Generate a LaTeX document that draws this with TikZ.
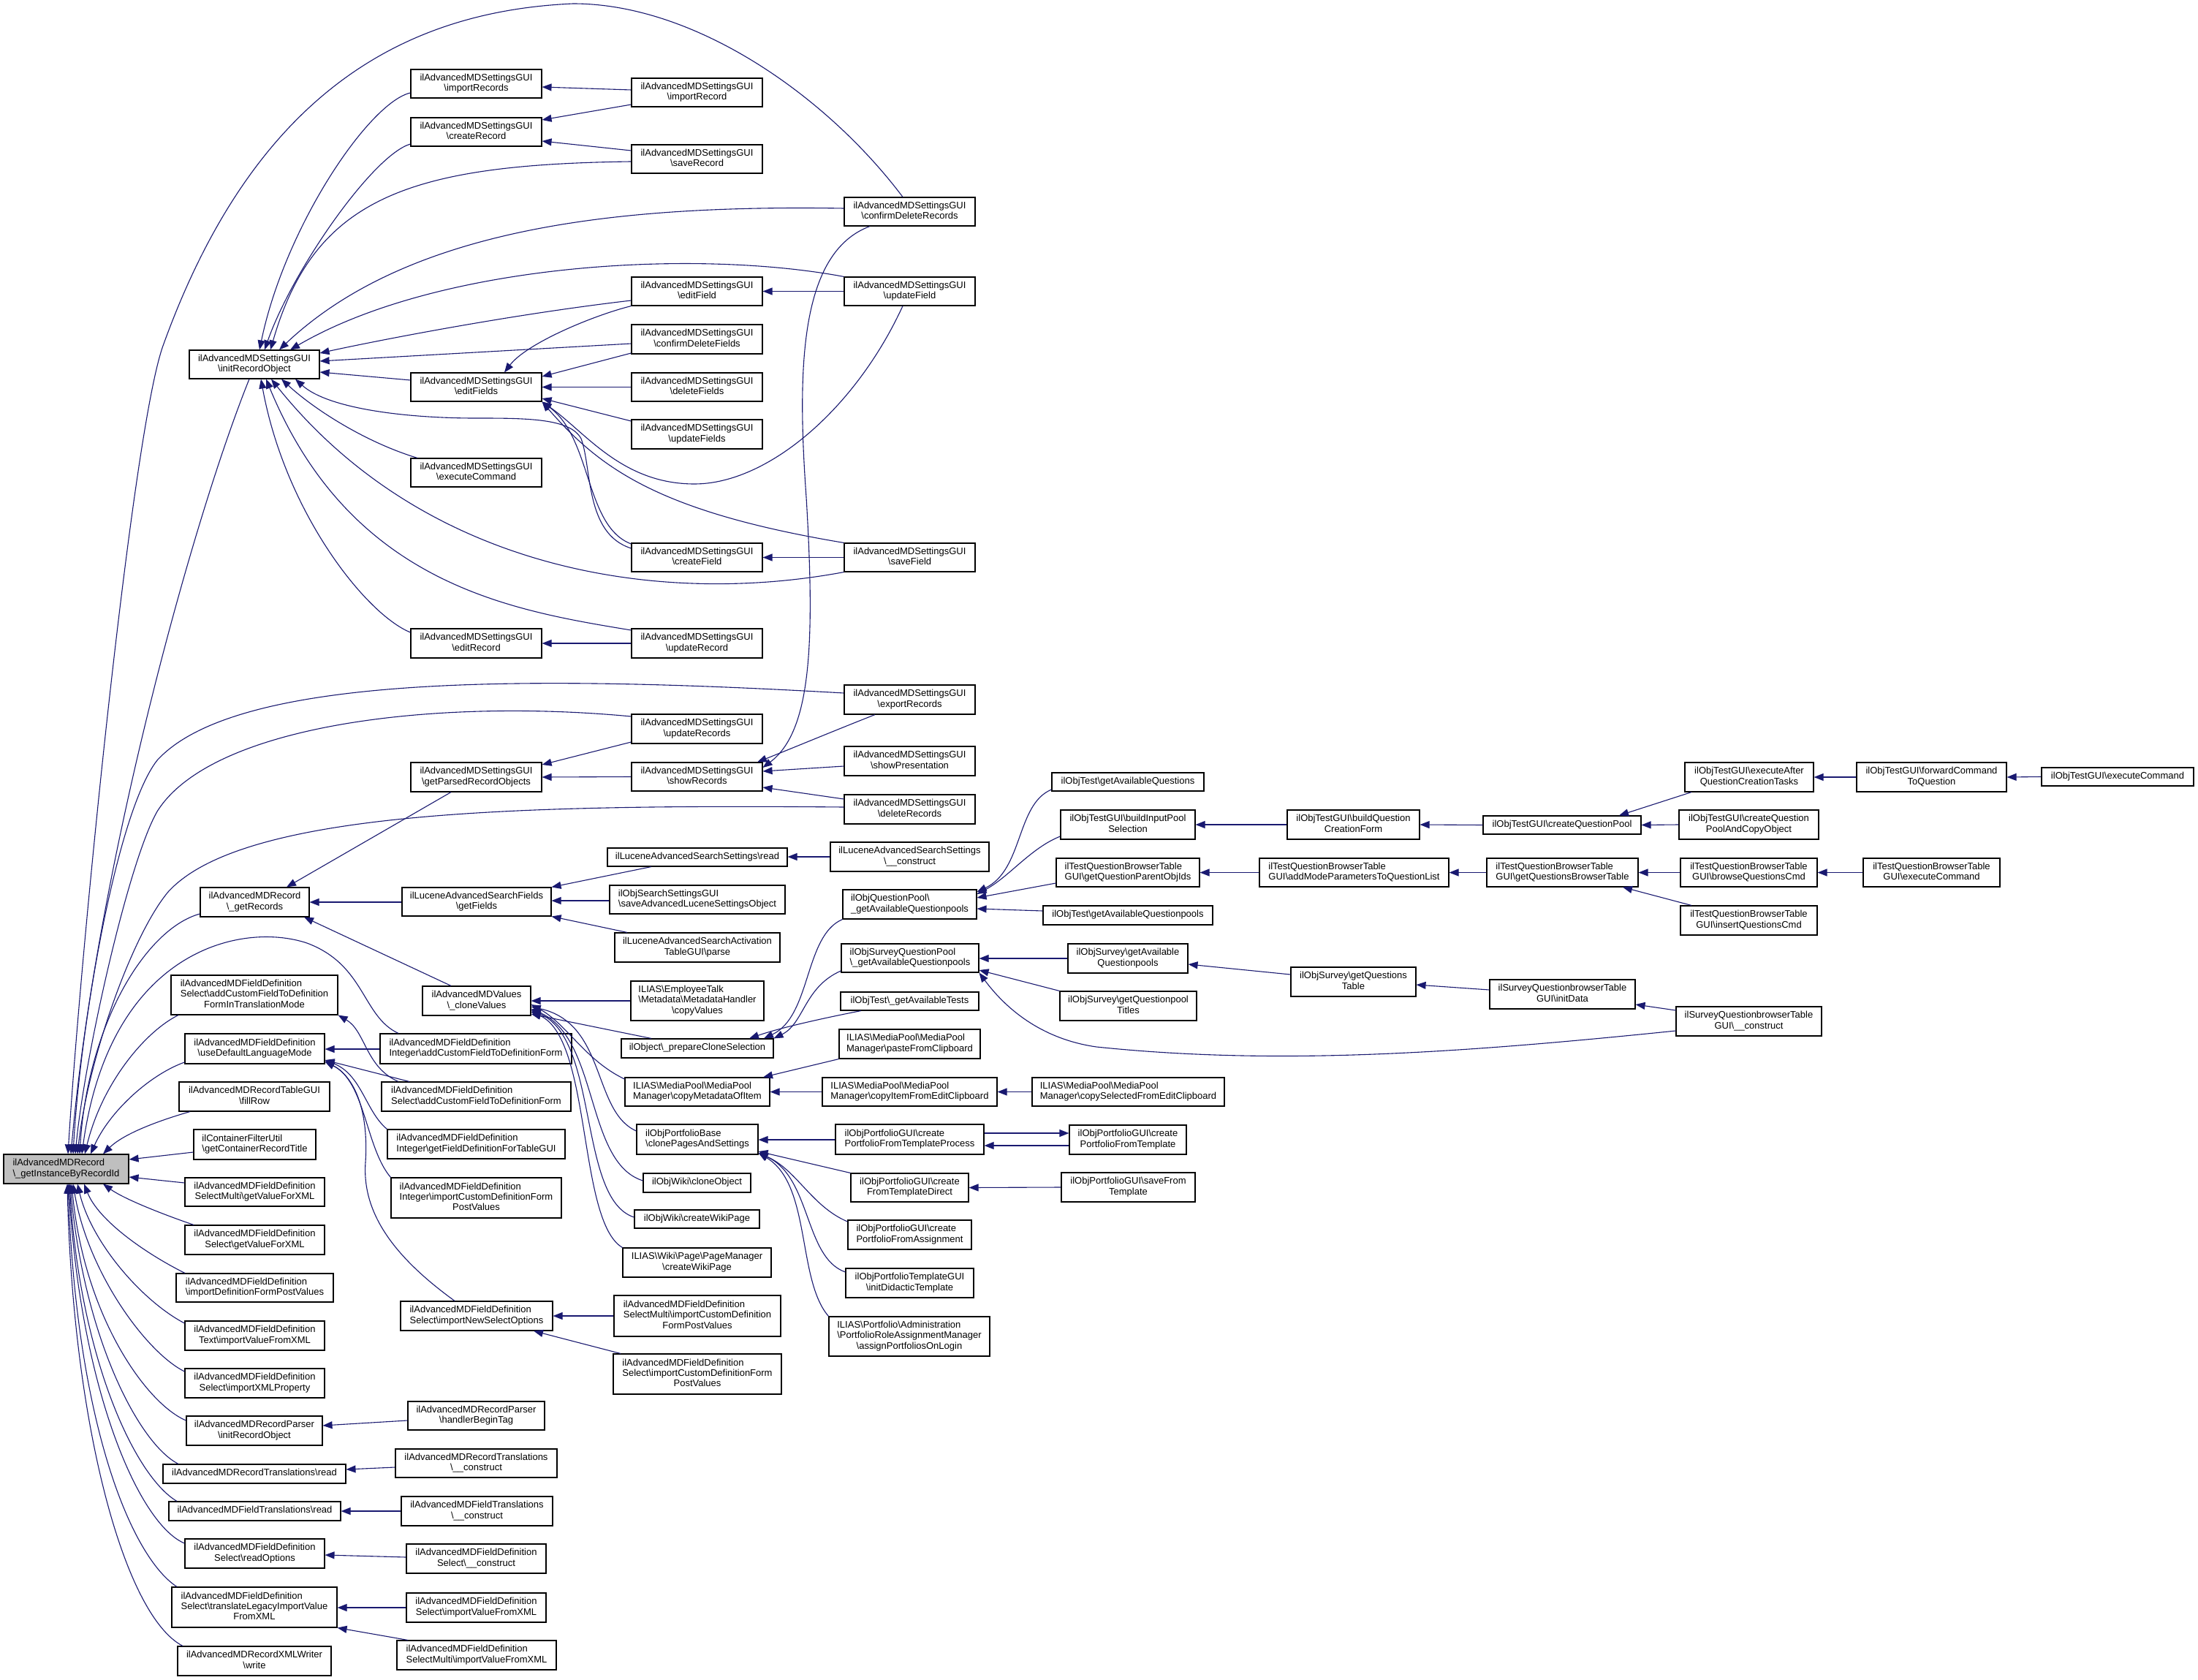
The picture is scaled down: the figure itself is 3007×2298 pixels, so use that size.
\documentclass[tikz,border=0pt]{standalone}
\usepackage{fontspec}
\newfontfamily\dfont{Liberation Sans}
\usetikzlibrary{arrows.meta}
\definecolor{edgec}{RGB}{25,25,112}
\definecolor{mainfill}{RGB}{191,191,191}
\newcommand\BS{\textbackslash}
\newcommand\LA[1]{\begin{tabular}{@{}c@{}}#1\end{tabular}}
\newcommand\LB[2]{\begin{tabular}{@{}l@{}}#1\\\multicolumn{1}{@{}c@{}}{#2}\end{tabular}}
\newcommand\LC[3]{\begin{tabular}{@{}l@{}}#1\\#2\\\multicolumn{1}{@{}c@{}}{#3}\end{tabular}}
\newcommand\nbx[7][]{\node[box,#1,minimum width={#5-#3},minimum height={#6-#4}] (#2) at ({(#3+#5)/2},{(#4+#6)/2}) {#7};}
\begin{document}
\begin{tikzpicture}[x=1pt,y=-1pt,
 box/.style={draw=black,line width=1.1pt,inner sep=0pt,anchor=center,font=\dfont\fontsize{13}{14.3}\selectfont},
 e/.style={draw=edgec,line width=1.1pt,-{Triangle[length=13pt,width=10pt,fill=edgec]}}]
\fill[white] (0,0) rectangle (3007,2298);
\useasboundingbox (0,0) rectangle (3007,2298);
% ---------- nodes
\nbx[fill=mainfill]{main}{5}{1579}{176}{1619}{\LB{ilAdvancedMDRecord}{\BS\_getInstanceByRecordId}}
% column B
\nbx{iro}{259}{479}{437}{518}{\LB{ilAdvancedMDSettingsGUI}{\BS initRecordObject}}
\nbx{gr}{274}{1214}{423}{1254}{\LB{ilAdvancedMDRecord}{\BS\_getRecords}}
\nbx{tm}{234}{1334}{462}{1388}{\LC{ilAdvancedMDFieldDefinition}{Select\BS addCustomFieldToDefinition}{FormInTranslationMode}}
\nbx{udl}{253}{1414}{444}{1455}{\LB{ilAdvancedMDFieldDefinition}{\BS useDefaultLanguageMode}}
\nbx{fr}{245}{1480}{451}{1520}{\LB{ilAdvancedMDRecordTableGUI}{\BS fillRow}}
\nbx{gct}{265}{1545}{432}{1586}{\LB{ilContainerFilterUtil}{\BS getContainerRecordTitle}}
\nbx{smgv}{253}{1611}{444}{1650}{\LB{ilAdvancedMDFieldDefinition}{SelectMulti\BS getValueForXML}}
\nbx{sgv}{253}{1676}{444}{1716}{\LB{ilAdvancedMDFieldDefinition}{Select\BS getValueForXML}}
\nbx{idf}{241}{1742}{456}{1781}{\LB{ilAdvancedMDFieldDefinition}{\BS importDefinitionFormPostValues}}
\nbx{tiv}{253}{1807}{444}{1847}{\LB{ilAdvancedMDFieldDefinition}{Text\BS importValueFromXML}}
\nbx{sixp}{253}{1872}{444}{1912}{\LB{ilAdvancedMDFieldDefinition}{Select\BS importXMLProperty}}
\nbx{rpiro}{255}{1937}{441}{1977}{\LB{ilAdvancedMDRecordParser}{\BS initRecordObject}}
\nbx{rtr}{223}{2003}{473}{2029}{\LA{ilAdvancedMDRecordTranslations\BS read}}
\nbx{ftr}{231}{2054}{466}{2080}{\LA{ilAdvancedMDFieldTranslations\BS read}}
\nbx{sro}{253}{2105}{444}{2145}{\LB{ilAdvancedMDFieldDefinition}{Select\BS readOptions}}
\nbx{tl}{235}{2171}{461}{2226}{\LC{ilAdvancedMDFieldDefinition}{Select\BS translateLegacyImportValue}{FromXML}}
\nbx{xw}{243}{2252}{453}{2292}{\LB{ilAdvancedMDRecordXMLWriter}{\BS write}}
% column C
\nbx{imr}{562}{95}{741}{134}{\LB{ilAdvancedMDSettingsGUI}{\BS importRecords}}
\nbx{cr}{562}{161}{741}{200}{\LB{ilAdvancedMDSettingsGUI}{\BS createRecord}}
\nbx{ef}{562}{510}{741}{549}{\LB{ilAdvancedMDSettingsGUI}{\BS editFields}}
\nbx{ec}{562}{627}{741}{666}{\LB{ilAdvancedMDSettingsGUI}{\BS executeCommand}}
\nbx{er}{562}{860}{741}{900}{\LB{ilAdvancedMDSettingsGUI}{\BS editRecord}}
\nbx{gpro}{562}{1043}{741}{1083}{\LB{ilAdvancedMDSettingsGUI}{\BS getParsedRecordObjects}}
\nbx{lgf}{550}{1214}{754}{1253}{\LB{ilLuceneAdvancedSearchFields}{\BS getFields}}
\nbx{cv}{578}{1349}{726}{1389}{\LB{ilAdvancedMDValues}{\BS\_cloneValues}}
\nbx{iacf}{520}{1414}{782}{1455}{\LB{ilAdvancedMDFieldDefinition}{Integer\BS addCustomFieldToDefinitionForm}}
\nbx{sacf}{522}{1480}{781}{1520}{\LB{ilAdvancedMDFieldDefinition}{Select\BS addCustomFieldToDefinitionForm}}
\nbx{igfd}{530}{1545}{773}{1585}{\LB{ilAdvancedMDFieldDefinition}{Integer\BS getFieldDefinitionForTableGUI}}
\nbx{icdf}{535}{1611}{768}{1666}{\LC{ilAdvancedMDFieldDefinition}{Integer\BS importCustomDefinitionForm}{PostValues}}
\nbx{inso}{548}{1780}{756}{1820}{\LB{ilAdvancedMDFieldDefinition}{Select\BS importNewSelectOptions}}
\nbx{hbt}{558}{1917}{745}{1956}{\LB{ilAdvancedMDRecordParser}{\BS handlerBeginTag}}
\nbx{rtc}{541}{1982}{762}{2021}{\LB{ilAdvancedMDRecordTranslations}{\BS\_\_construct}}
\nbx{ftc}{549}{2047}{756}{2087}{\LB{ilAdvancedMDFieldTranslations}{\BS\_\_construct}}
\nbx{sc}{556}{2112}{747}{2152}{\LB{ilAdvancedMDFieldDefinition}{Select\BS\_\_construct}}
\nbx{siv}{556}{2179}{747}{2219}{\LB{ilAdvancedMDFieldDefinition}{Select\BS importValueFromXML}}
\nbx{smiv}{543}{2244}{761}{2284}{\LB{ilAdvancedMDFieldDefinition}{SelectMulti\BS importValueFromXML}}
% column D
\nbx{imrec}{864}{107}{1043}{146}{\LB{ilAdvancedMDSettingsGUI}{\BS importRecord}}
\nbx{sr}{864}{198}{1043}{237}{\LB{ilAdvancedMDSettingsGUI}{\BS saveRecord}}
\nbx{efd}{864}{379}{1043}{418}{\LB{ilAdvancedMDSettingsGUI}{\BS editField}}
\nbx{cdf}{864}{444}{1043}{484}{\LB{ilAdvancedMDSettingsGUI}{\BS confirmDeleteFields}}
\nbx{df}{864}{510}{1043}{549}{\LB{ilAdvancedMDSettingsGUI}{\BS deleteFields}}
\nbx{ufs}{864}{574}{1043}{614}{\LB{ilAdvancedMDSettingsGUI}{\BS updateFields}}
\nbx{cf}{864}{743}{1043}{782}{\LB{ilAdvancedMDSettingsGUI}{\BS createField}}
\nbx{ur}{864}{860}{1043}{900}{\LB{ilAdvancedMDSettingsGUI}{\BS updateRecord}}
\nbx{urs}{864}{977}{1043}{1017}{\LB{ilAdvancedMDSettingsGUI}{\BS updateRecords}}
\nbx{shr}{864}{1043}{1043}{1082}{\LB{ilAdvancedMDSettingsGUI}{\BS showRecords}}
\nbx{lsr}{831}{1160}{1077}{1185}{\LA{ilLuceneAdvancedSearchSettings\BS read}}
\nbx{ossg}{834}{1211}{1074}{1250}{\LB{ilObjSearchSettingsGUI}{\BS saveAdvancedLuceneSettingsObject}}
\nbx{lat}{841}{1276}{1067}{1316}{\LB{ilLuceneAdvancedSearchActivation}{TableGUI\BS parse}}
\nbx{etc}{863}{1342}{1045}{1396}{\LC{ILIAS\BS EmployeeTalk}{\BS Metadata\BS MetadataHandler}{\BS copyValues}}
\nbx{pcs}{850}{1421}{1058}{1447}{\LA{ilObject\BS\_prepareCloneSelection}}
\nbx{cmo}{855}{1474}{1053}{1513}{\LB{ILIAS\BS MediaPool\BS MediaPool}{Manager\BS copyMetadataOfItem}}
\nbx{cps}{871}{1538}{1037}{1579}{\LB{ilObjPortfolioBase}{\BS clonePagesAndSettings}}
\nbx{wco}{880}{1605}{1027}{1631}{\LA{ilObjWiki\BS cloneObject}}
\nbx{wcp}{868}{1655}{1039}{1680}{\LA{ilObjWiki\BS createWikiPage}}
\nbx{pmw}{852}{1707}{1055}{1747}{\LB{ILIAS\BS Wiki\BS Page\BS PageManager}{\BS createWikiPage}}
\nbx{smicd}{840}{1772}{1068}{1828}{\LC{ilAdvancedMDFieldDefinition}{SelectMulti\BS importCustomDefinition}{FormPostValues}}
\nbx{sicd}{839}{1852}{1069}{1907}{\LC{ilAdvancedMDFieldDefinition}{Select\BS importCustomDefinitionForm}{PostValues}}
% column E
\nbx{cdr}{1155}{270}{1334}{309}{\LB{ilAdvancedMDSettingsGUI}{\BS confirmDeleteRecords}}
\nbx{uf}{1155}{379}{1334}{418}{\LB{ilAdvancedMDSettingsGUI}{\BS updateField}}
\nbx{sf}{1155}{743}{1334}{782}{\LB{ilAdvancedMDSettingsGUI}{\BS saveField}}
\nbx{exr}{1155}{937}{1334}{977}{\LB{ilAdvancedMDSettingsGUI}{\BS exportRecords}}
\nbx{sp}{1155}{1021}{1334}{1061}{\LB{ilAdvancedMDSettingsGUI}{\BS showPresentation}}
\nbx{dr}{1155}{1087}{1334}{1127}{\LB{ilAdvancedMDSettingsGUI}{\BS deleteRecords}}
\nbx{lsc}{1136}{1152}{1353}{1192}{\LB{ilLuceneAdvancedSearchSettings}{\BS\_\_construct}}
\nbx{qpa}{1153}{1217}{1336}{1257}{\LB{ilObjQuestionPool\BS}{\_getAvailableQuestionpools}}
\nbx{sqpa}{1151}{1291}{1339}{1330}{\LB{ilObjSurveyQuestionPool}{\BS\_getAvailableQuestionpools}}
\nbx{gat}{1150}{1357}{1339}{1382}{\LA{ilObjTest\BS\_getAvailableTests}}
\nbx{pfc}{1148}{1408}{1341}{1448}{\LB{ILIAS\BS MediaPool\BS MediaPool}{Manager\BS pasteFromClipboard}}
\nbx{cie}{1125}{1474}{1364}{1513}{\LB{ILIAS\BS MediaPool\BS MediaPool}{Manager\BS copyItemFromEditClipboard}}
\nbx{cpftp}{1143}{1538}{1346}{1579}{\LB{ilObjPortfolioGUI\BS create}{PortfolioFromTemplateProcess}}
\nbx{cftd}{1164}{1605}{1325}{1644}{\LB{ilObjPortfolioGUI\BS create}{FromTemplateDirect}}
\nbx{cpfa}{1160}{1669}{1329}{1709}{\LB{ilObjPortfolioGUI\BS create}{PortfolioFromAssignment}}
\nbx{idt}{1157}{1735}{1332}{1775}{\LB{ilObjPortfolioTemplateGUI}{\BS initDidacticTemplate}}
\nbx{apl}{1134}{1801}{1354}{1855}{\LC{ILIAS\BS Portfolio\BS Administration}{\BS PortfolioRoleAssignmentManager}{\BS assignPortfoliosOnLogin}}
% column F
\nbx{tgaq}{1439}{1057}{1647}{1082}{\LA{ilObjTest\BS getAvailableQuestions}}
\nbx{bips}{1451}{1108}{1635}{1148}{\LB{ilObjTestGUI\BS buildInputPool}{Selection}}
\nbx{gqpo}{1445}{1174}{1641}{1213}{\LB{ilTestQuestionBrowserTable}{GUI\BS getQuestionParentObjIds}}
\nbx{tgaqp}{1427}{1239}{1659}{1265}{\LA{ilObjTest\BS getAvailableQuestionpools}}
\nbx{sgaq}{1461}{1291}{1625}{1331}{\LB{ilObjSurvey\BS getAvailable}{Questionpools}}
\nbx{sgqt}{1450}{1356}{1637}{1396}{\LB{ilObjSurvey\BS getQuestionpool}{Titles}}
\nbx{csec}{1412}{1474}{1675}{1513}{\LB{ILIAS\BS MediaPool\BS MediaPool}{Manager\BS copySelectedFromEditClipboard}}
\nbx{cpft}{1463}{1539}{1623}{1579}{\LB{ilObjPortfolioGUI\BS create}{PortfolioFromTemplate}}
\nbx{sft}{1452}{1604}{1635}{1644}{\LB{ilObjPortfolioGUI\BS saveFrom}{Template}}
% column G
\nbx{bqcf}{1761}{1108}{1942}{1148}{\LB{ilObjTestGUI\BS buildQuestion}{CreationForm}}
\nbx{amp}{1723}{1174}{1982}{1213}{\LB{ilTestQuestionBrowserTable}{GUI\BS addModeParametersToQuestionList}}
\nbx{sgqtab}{1766}{1323}{1937}{1363}{\LB{ilObjSurvey\BS getQuestions}{Table}}
% column H
\nbx{cqp}{2029}{1116}{2245}{1141}{\LA{ilObjTestGUI\BS createQuestionPool}}
\nbx{gqbt}{2034}{1174}{2241}{1213}{\LB{ilTestQuestionBrowserTable}{GUI\BS getQuestionsBrowserTable}}
\nbx{sid}{2038}{1340}{2237}{1380}{\LB{ilSurveyQuestionbrowserTable}{GUI\BS initData}}
% column I
\nbx{eaqct}{2305}{1043}{2481}{1083}{\LB{ilObjTestGUI\BS executeAfter}{QuestionCreationTasks}}
\nbx{cqpc}{2297}{1108}{2488}{1148}{\LB{ilObjTestGUI\BS createQuestion}{PoolAndCopyObject}}
\nbx{bqc}{2299}{1174}{2486}{1213}{\LB{ilTestQuestionBrowserTable}{GUI\BS browseQuestionsCmd}}
\nbx{iqc}{2299}{1239}{2486}{1279}{\LB{ilTestQuestionBrowserTable}{GUI\BS insertQuestionsCmd}}
\nbx{sqc}{2293}{1377}{2492}{1417}{\LB{ilSurveyQuestionbrowserTable}{GUI\BS\_\_construct}}
% column J, K
\nbx{fcq}{2540}{1043}{2745}{1083}{\LB{ilObjTestGUI\BS forwardCommand}{ToQuestion}}
\nbx{qbec}{2549}{1174}{2736}{1213}{\LB{ilTestQuestionBrowserTable}{GUI\BS executeCommand}}
\nbx{tec}{2793}{1050}{3001}{1075}{\LA{ilObjTestGUI\BS executeCommand}}
% ---------- edges into initRecordObject
\draw[e] (imr.west |- 0,127) .. controls (505,140) and (390,310) .. (iro.north -| 355,0);
\draw[e] (cr.west |- 0,197) .. controls (510,212) and (400,370) .. (iro.north -| 362,0);
\draw[e] (sr.west |- 0,221) .. controls (560,225) and (430,270) .. (iro.north -| 370,0);
\draw[e] (cdr.west |- 0,285) .. controls (850,280) and (560,310) .. (iro.north -| 382,0);
\draw[e] (uf.north west) .. controls (950,340) and (600,360) .. (iro.north -| 397,0);
\draw[e] (efd.west |- 0,411) .. controls (700,430) and (520,465) .. (iro.east |- 0,483);
\draw[e] (cdf.west |- 0,470) -- (iro.east |- 0,494);
\draw[e] (ef.west |- 0,520) -- (iro.east |- 0,509);
\draw[e] (cf.west |- 0,750) .. controls (800,730) and (810,640) .. (795,600) .. controls (780,572) and (720,572) .. (650,572) .. controls (560,572) and (450,560) .. (iro.south -| 404,0);
\draw[e] (ec.north -| 571,0) .. controls (500,605) and (430,560) .. (iro.south -| 385,0);
\draw[e] (sf.south west) .. controls (900,830) and (580,780) .. (iro.south -| 371,0);
\draw[e] (ur.west |- 0,862) .. controls (700,835) and (480,800) .. (iro.south -| 364,0);
\draw[e] (er.west |- 0,865) .. controls (500,840) and (390,700) .. (iro.south -| 357,0);
% ---------- edges into the main node
\draw[e] (iro.south -| 341,0) .. controls (260,720) and (130,1200) .. (main.north -| 97,0);
\draw[e] (cdr.north -| 1235,0) .. controls (1130,130) and (950,5) .. (784,5) .. controls (560,15) and (350,120) .. (223,473) .. controls (181,590) and (110,1300) .. (main.north -| 93,0);
\draw[e] (exr.west |- 0,948) .. controls (700,922) and (320,925) .. (215,1040) .. controls (160,1110) and (110,1400) .. (main.north -| 100,0);
\draw[e] (urs.west |- 0,980) .. controls (600,955) and (290,990) .. (215,1110) .. controls (175,1180) and (115,1450) .. (main.north -| 103,0);
\draw[e] (dr.west |- 0,1104) .. controls (700,1100) and (330,1110) .. (230,1220) .. controls (180,1280) and (120,1450) .. (main.north -| 106,0);
\draw[e] (gr.west |- 0,1250) .. controls (200,1270) and (120,1400) .. (main.north -| 109,0);
\draw[e] (iacf.north -| 545,0) .. controls (495,1390) and (500,1320) .. (420,1290) .. controls (330,1260) and (150,1300) .. (main.north -| 112,0);
\draw[e] (tm.south -| 244,0) .. controls (200,1410) and (140,1480) .. (main.north -| 116,0);
\draw[e] (udl.west |- 0,1453) .. controls (205,1470) and (150,1520) .. (main.north -| 124,0);
\draw[e] (fr.south -| 260,0) .. controls (220,1532) and (170,1550) .. (main.north -| 141,0);
\draw[e] (gct.west |- 0,1576) -- (main.east |- 0,1586);
\draw[e] (smgv.west |- 0,1618) -- (main.east |- 0,1610);
\draw[e] (sgv.north -| 265,0) .. controls (220,1660) and (170,1640) .. (main.south -| 141,0);
\draw[e] (idf.north -| 253,0) .. controls (200,1715) and (135,1670) .. (main.south -| 115,0);
\draw[e] (tiv.west |- 0,1810) .. controls (195,1780) and (125,1700) .. (main.south -| 106,0);
\draw[e] (sixp.west |- 0,1876) .. controls (200,1850) and (120,1740) .. (main.south -| 100,0);
\draw[e] (rpiro.west |- 0,1943) .. controls (200,1920) and (115,1800) .. (main.south -| 98,0);
\draw[e] (rtr.north -| 244,0) .. controls (190,1975) and (115,1830) .. (main.south -| 96,0);
\draw[e] (ftr.north -| 242,0) .. controls (185,2020) and (110,1860) .. (main.south -| 95,0);
\draw[e] (sro.west |- 0,2111) .. controls (190,2085) and (110,1900) .. (main.south -| 94,0);
\draw[e] (tl.north -| 242,0) .. controls (180,2130) and (105,1950) .. (main.south -| 93,0);
\draw[e] (xw.north -| 250,0) .. controls (170,2210) and (100,1950) .. (main.south -| 92,0);
% ---------- edges into editFields
\draw[e] (efd.south west) .. controls (810,432) and (720,470) .. (ef.north -| 690,0);
\draw[e] (cdf.west |- 0,483) -- (ef.east |- 0,515);
\draw[e] (df.west) -- (ef.east);
\draw[e] (ufs.west |- 0,576) -- (ef.east |- 0,545);
\draw[e] (uf.south -| 1235,0) .. controls (1170,560) and (1050,662) .. (950,662) .. controls (850,662) and (800,590) .. (ef.south east);
\draw[e] (cf.west |- 0,744) .. controls (800,720) and (810,600) .. (ef.south east);
\draw[e] (sf.north west) .. controls (900,700) and (820,640) .. (ef.south east);
% ---------- other settings GUI edges
\draw[e] (uf.west) -- (efd.east);
\draw[e] (sf.west) -- (cf.east);
\draw[e] (imrec.west |- 0,123) -- (imr.east |- 0,119);
\draw[e] (imrec.west |- 0,143) -- (cr.east |- 0,164);
\draw[e] (sr.west |- 0,206) -- (cr.east |- 0,193);
\draw[e] (ur.west) -- (er.east);
\draw[e] (cdr.south -| 1190,0) .. controls (1095,345) and (1090,500) .. (1103,680) .. controls (1115,880) and (1110,1000) .. (shr.east |- 0,1050);
\draw[e] (urs.west |- 0,1015) -- (gpro.east |- 0,1046);
\draw[e] (shr.west) -- (gpro.east |- 0,1063);
\draw[e] (exr.south -| 1197,0) .. controls (1140,1000) and (1080,1025) .. (shr.north -| 1036,0);
\draw[e] (sp.west |- 0,1048) -- (shr.east |- 0,1055);
\draw[e] (dr.west |- 0,1093) -- (shr.east |- 0,1077);
% ---------- getRecords
\draw[e] (gpro.south -| 617,0) -- (gr.north -| 392,0);
\draw[e] (lgf.west |- 0,1234) -- (gr.east |- 0,1234);
\draw[e] (cv.north -| 617,0) -- (gr.south -| 416,0);
\draw[e] (lsr.south -| 891,0) -- (lgf.north east);
\draw[e] (ossg.west |- 0,1232) -- (lgf.east |- 0,1232);
\draw[e] (lat.north -| 858,0) -- (lgf.south east);
\draw[e] (lsc.west |- 0,1172) -- (lsr.east |- 0,1172);
% ---------- cloneValues
\draw[e] (etc.west |- 0,1369) -- (cv.east |- 0,1369);
\draw[e] (pcs.north -| 891,0) -- (cv.east |- 0,1387);
\draw[e] (cmo.west |- 0,1476) .. controls (800,1450) and (775,1400) .. (cv.east |- 0,1374);
\draw[e] (cps.west |- 0,1547) .. controls (810,1520) and (830,1400) .. (cv.east |- 0,1377);
\draw[e] (wco.west |- 0,1615) .. controls (800,1590) and (820,1420) .. (cv.east |- 0,1380);
\draw[e] (wcp.west |- 0,1665) .. controls (790,1640) and (820,1420) .. (cv.east |- 0,1382);
\draw[e] (pmw.north west) .. controls (790,1670) and (810,1420) .. (cv.east |- 0,1384);
% ---------- prepareCloneSelection
\draw[e] (qpa.south west) .. controls (1100,1280) and (1110,1390) .. (pcs.north -| 1045,0);
\draw[e] (sqpa.west |- 0,1328) .. controls (1100,1350) and (1100,1400) .. (pcs.north east);
\draw[e] (gat.south -| 1178,0) .. controls (1130,1392) and (1070,1405) .. (pcs.north -| 1025,0);
% ---------- media pool
\draw[e] (pfc.south west) -- (cmo.north -| 1044,0);
\draw[e] (cie.west) -- (cmo.east);
\draw[e] (csec.west) -- (cie.east);
% ---------- portfolio
\draw[e] (cpftp.west |- 0,1559) -- (cps.east |- 0,1559);
\draw[e] (cftd.north west) -- (cps.east |- 0,1575);
\draw[e] (cpfa.west |- 0,1671) .. controls (1110,1650) and (1090,1600) .. (cps.east |- 0,1577);
\draw[e] (idt.west |- 0,1740) .. controls (1100,1720) and (1110,1610) .. (cps.east |- 0,1577);
\draw[e] (apl.north west) .. controls (1090,1750) and (1110,1620) .. (cps.east |- 0,1577);
\draw[e] (cpftp.east |- 0,1550) -- (cpft.west |- 0,1550);
\draw[e] (cpft.west |- 0,1567) -- (cpftp.east |- 0,1567);
\draw[e] (sft.west) -- (cftd.east);
% ---------- question pools
\draw[e] (tgaq.west |- 0,1080) .. controls (1390,1100) and (1400,1190) .. (qpa.east |- 0,1220);
\draw[e] (bips.west |- 0,1144) .. controls (1410,1160) and (1380,1200) .. (qpa.east |- 0,1223);
\draw[e] (gqpo.west |- 0,1208) -- (qpa.east |- 0,1228);
\draw[e] (tgaqp.west |- 0,1246) -- (qpa.east |- 0,1243);
\draw[e] (sgaq.west |- 0,1311) -- (sqpa.east |- 0,1311);
\draw[e] (sgqt.north west) -- (sqpa.east |- 0,1327);
\draw[e] (sqc.west |- 0,1410) .. controls (2000,1440) and (1750,1458) .. (1500,1432) .. controls (1430,1422) and (1380,1385) .. (sqpa.south east);
% ---------- test GUI chains
\draw[e] (bqcf.west) -- (bips.east);
\draw[e] (cqp.west) -- (bqcf.east);
\draw[e] (eaqct.south -| 2314,0) -- (cqp.north -| 2215,0);
\draw[e] (cqpc.west) -- (cqp.east);
\draw[e] (fcq.west) -- (eaqct.east);
\draw[e] (tec.west) -- (fcq.east);
\draw[e] (amp.west) -- (gqpo.east);
\draw[e] (gqbt.west) -- (amp.east);
\draw[e] (bqc.west) -- (gqbt.east);
\draw[e] (iqc.north -| 2314,0) -- (gqbt.south -| 2220,0);
\draw[e] (qbec.west) -- (bqc.east);
\draw[e] (sgqtab.west |- 0,1333) -- (sgaq.east |- 0,1319);
\draw[e] (sid.west |- 0,1354) -- (sgqtab.east |- 0,1347);
\draw[e] (sqc.west |- 0,1382) -- (sid.east |- 0,1374);
% ---------- field definition edges
\draw[e] (inso.north -| 622,0) .. controls (540,1720) and (495,1660) .. (500,1590) .. controls (505,1510) and (480,1470) .. (udl.east |- 0,1452);
\draw[e] (icdf.north west) .. controls (500,1570) and (500,1480) .. (udl.east |- 0,1452);
\draw[e] (igfd.north west) .. controls (500,1520) and (495,1470) .. (udl.east |- 0,1450);
\draw[e] (sacf.north -| 560,0) -- (udl.east |- 0,1450);
\draw[e] (iacf.west |- 0,1435) -- (udl.east |- 0,1435);
\draw[e] (sacf.north -| 545,0) .. controls (500,1460) and (500,1410) .. (tm.south east);
\draw[e] (smicd.west |- 0,1800) -- (inso.east |- 0,1800);
\draw[e] (sicd.north -| 849,0) -- (inso.south -| 730,0);
\draw[e] (hbt.west |- 0,1943) -- (rpiro.east |- 0,1950);
\draw[e] (rtc.west |- 0,2007) -- (rtr.east |- 0,2010);
\draw[e] (ftc.west |- 0,2067) -- (ftr.east |- 0,2067);
\draw[e] (sc.west |- 0,2130) -- (sro.east |- 0,2127);
\draw[e] (siv.west) -- (tl.east |- 0,2199);
\draw[e] (smiv.north -| 558,0) -- (tl.south east);
\end{tikzpicture}
\end{document}
